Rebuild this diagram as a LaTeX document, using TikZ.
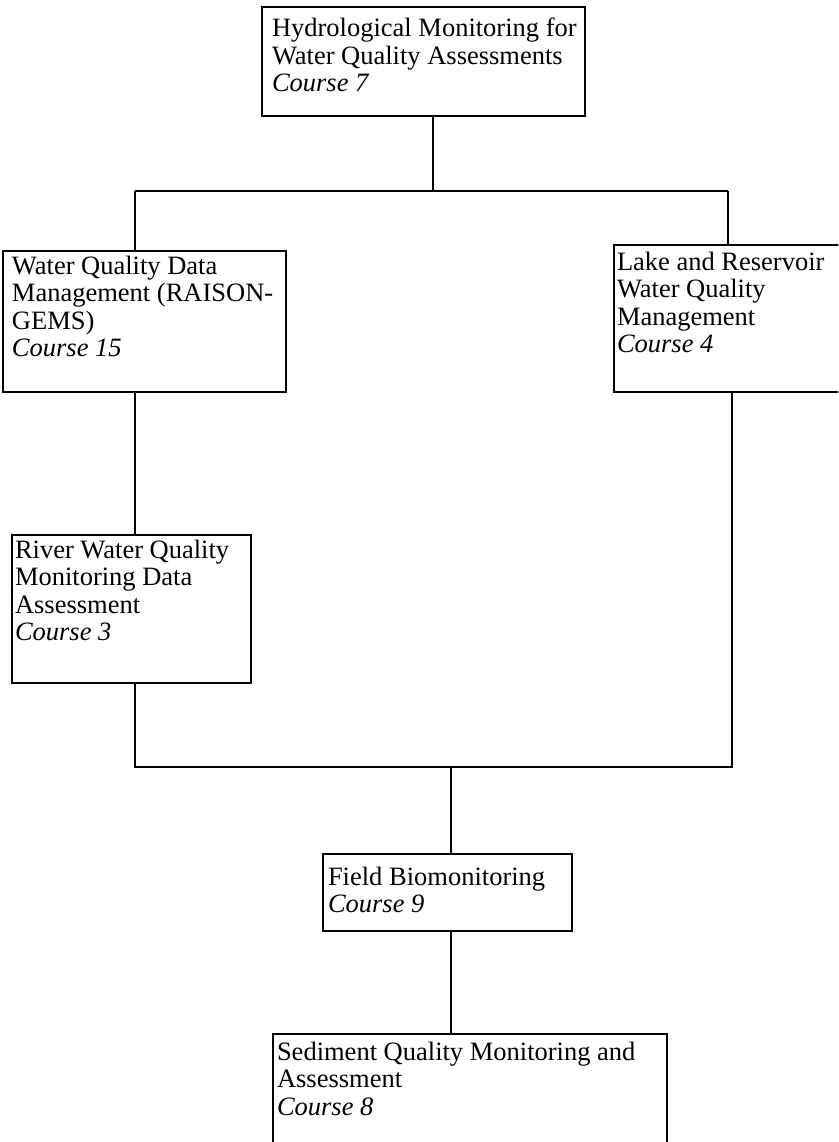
\documentclass[tikz,border=0pt]{standalone}
\usepackage{fontspec}
\setmainfont{Liberation Serif}
\newcommand\cbody[5]{\parbox[c][#1][t]{#2}{\leftskip=#3\rightskip=0pt plus 1fil\fontsize{26.5}{27.5}\selectfont\rule{0pt}{#4}#5}}
\begin{document}
\begin{tikzpicture}[x=1pt,y=-1pt,
  coursebox/.style={draw, line width=1.3pt, anchor=north west, inner sep=0pt, outer sep=0pt},
  link/.style={line width=1.3pt}]
\useasboundingbox (0,0) rectangle (838,1142);
\clip (0,0) rectangle (838,1142);
\fill[white] (0,0) rectangle (838,1142);
\node[coursebox] (top) at (262,7) {\cbody{109pt}{323pt}{10pt}{30pt}{Hydrological Monitoring for\\ Water Quality Assessments\\ \textit{Course 7}}};
\node[coursebox] (wq) at (3,251) {\cbody{141pt}{283pt}{9pt}{23pt}{Water Quality Data\\ Management (RAISON-\\ GEMS)\\ \textit{Course 15}}};
\node[coursebox] (lake) at (614,245) {\cbody{147pt}{250pt}{3pt}{25pt}{Lake and Reservoir\\ Water Quality\\ Management\\ \textit{Course 4}}};
\node[coursebox] (river) at (12,535) {\cbody{148pt}{239pt}{3pt}{23pt}{River Water Quality\\ Monitoring Data\\ Assessment\\ \textit{Course 3}}};
\node[coursebox] (field) at (323,854) {\cbody{77pt}{249pt}{5pt}{31pt}{Field Biomonitoring\\ \textit{Course 9}}};
\node[coursebox] (sed) at (273,1034) {\cbody{140pt}{394pt}{4pt}{26pt}{Sediment Quality Monitoring and\\ Assessment\\ \textit{Course 8}}};
\coordinate (j1) at (433,191);
\coordinate (jl) at (135,191);
\coordinate (jr) at (728,191);
\coordinate (j2) at (135,767);
\coordinate (j2r) at (732,767);
\coordinate (j3) at (451,767);
\draw[link] (top.south -| j1) -- (j1);
\draw[link] (jl) -- (jr);
\draw[link] (jl) -- (wq.north -| jl);
\draw[link] (jr) -- (lake.north -| jr);
\draw[link] (wq.south -| jl) -- (river.north -| jl);
\draw[link] (river.south -| j2) -- (j2) -- (j2r) -- (lake.south -| j2r);
\draw[link] (j3) -- (field.north -| j3);
\draw[link] (field.south -| j3) -- (sed.north -| j3);
\end{tikzpicture}
\end{document}
